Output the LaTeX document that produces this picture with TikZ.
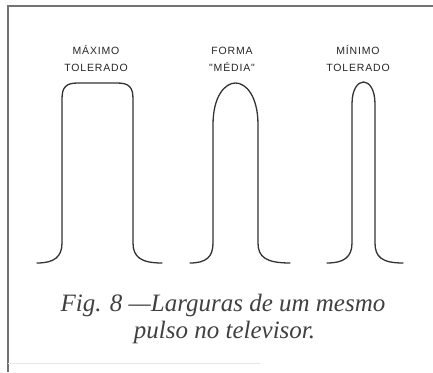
\documentclass[tikz,border=0pt]{standalone}
\usepackage{fontspec}
\setmainfont{Liberation Serif}
\newfontfamily\rotulofont[LetterSpace=8]{Liberation Sans}
\usetikzlibrary{positioning}

\begin{document}
\begin{tikzpicture}[x=1pt,y=-1pt,
    pulso/.style={line width=1.3pt,line cap=round,black!80},
    rotulo/.style={font=\rotulofont\fontsize{10.5}{17}\selectfont,align=center,text=black!85},
    legenda/.style={font=\itshape\fontsize{25}{27}\selectfont,anchor=base,text=black!75}]
    \useasboundingbox (0,0) rectangle (433,372);

    % moldura
    \draw[black!55,line width=1.4pt] (8,372) -- (8,6) -- (433,6);
    \draw[black!10,line width=1pt] (8,363) -- (260,363);

    % rotulos
    \node[rotulo] (maximo) at (96,58) {MÁXIMO\\TOLERADO};
    \node[rotulo] (media) at (232,59) {FORMA\\"MÉDIA"};
    \node[rotulo] (minimo) at (358,58) {MÍNIMO\\TOLERADO};

    % pulsos
    \draw[pulso] (37,263) .. controls (54,263) and (62,257) .. (62,243)
        -- (62,99) .. controls (62,87) and (66,83) .. (78,83) -- (117,83)
        .. controls (129,83) and (133,87) .. (133,99) -- (133,243)
        .. controls (133,257) and (141,263) .. (162,263);
    \draw[pulso] (190,263) .. controls (206,263) and (213,257) .. (213,243)
        -- (213,125) .. controls (213,96) and (225,83) .. (235.5,83)
        .. controls (246,83) and (258,96) .. (258,125) -- (258,243)
        .. controls (258,257) and (266,263) .. (290,263);
    \draw[pulso] (327,263) .. controls (344,263) and (352,257) .. (352,243)
        -- (352,104) .. controls (352,89) and (358,82) .. (363.5,82)
        .. controls (369,82) and (375,89) .. (375,104) -- (375,243)
        .. controls (375,257) and (382,263) .. (403,263);

    % legenda
    \node[legenda] (fig) at (223,311) {Fig. 8 —Larguras de um mesmo};
    \node[legenda] (pulsotv) at (224.5,338) {pulso no televisor.};
\end{tikzpicture}
\end{document}
